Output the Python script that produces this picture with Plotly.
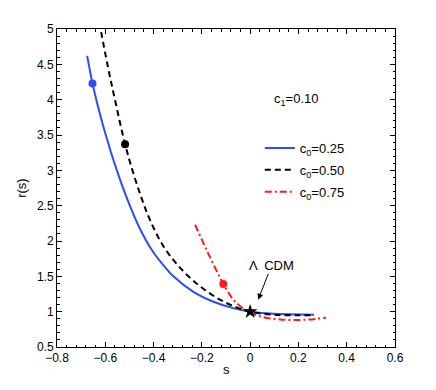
import plotly.graph_objects as go

# ---- data ----
s_c025 = [-0.675, -0.653, -0.630, -0.608, -0.584, -0.560, -0.511, -0.456, -0.401, -0.350,
          -0.318, -0.235, -0.152, -0.070, 0.000, 0.080, 0.160, 0.265]
r_c025 = [4.62, 4.23, 3.90, 3.62, 3.34, 3.08, 2.61, 2.17, 1.84, 1.62,
          1.50, 1.28, 1.14, 1.05, 1.00, 0.975, 0.962, 0.958]

s_c050 = [-0.625, -0.590, -0.560, -0.518, -0.484, -0.449, -0.415, -0.360, -0.290, -0.208,
          -0.125, -0.056, 0.000, 0.100, 0.200, 0.265]
r_c050 = [5.10, 4.48, 4.00, 3.37, 2.96, 2.60, 2.30, 1.93, 1.62, 1.36,
          1.17, 1.06, 1.00, 0.955, 0.948, 0.950]

s_c075 = [-0.228, -0.180, -0.145, -0.111, -0.070, -0.042, -0.020, 0.000, 0.041, 0.080,
          0.124, 0.180, 0.240, 0.314]
r_c075 = [2.23, 1.87, 1.62, 1.39, 1.17, 1.08, 1.02, 0.985, 0.935, 0.905,
          0.890, 0.882, 0.888, 0.915]

dot_s = [-0.653, -0.518, -0.111]
dot_r = [4.23, 3.37, 1.39]
dot_colors = ["#2a4dff", "#000000", "#ff1a1a"]

lcdm_s = [0.0]
lcdm_r = [1.0]

legend_labels = ["c<sub>0</sub>=0.25", "c<sub>0</sub>=0.50", "c<sub>0</sub>=0.75"]
x_ticks = [-0.8, -0.6, -0.4, -0.2, 0, 0.2, 0.4, 0.6]
y_ticks = [0.5, 1, 1.5, 2, 2.5, 3, 3.5, 4, 4.5, 5]

FONT = "Liberation Sans, Arial, Helvetica, sans-serif"

fig = go.Figure()
fig.add_trace(go.Scatter(x=s_c025, y=r_c025, mode="lines", name=legend_labels[0],
                         legendgroup="a", line=dict(color="#2a4dff", width=2, shape="spline")))
fig.add_trace(go.Scatter(x=s_c050, y=r_c050, mode="lines", name=legend_labels[1],
                         legendgroup="b",
                         line=dict(color="#000000", width=2, dash="6px,4px", shape="spline")))
fig.add_trace(go.Scatter(x=s_c075, y=r_c075, mode="lines", name=legend_labels[2],
                         legendgroup="c",
                         line=dict(color="#ff1a1a", width=2, dash="7px,3px,2px,3px", shape="spline")))
fig.add_trace(go.Scatter(x=dot_s, y=dot_r, mode="markers", showlegend=False,
                         marker=dict(color=dot_colors, size=8)))
fig.add_trace(go.Scatter(x=lcdm_s, y=lcdm_r, mode="markers", showlegend=False,
                         marker=dict(color="black", size=11, symbol="star")))

fig.add_annotation(x=0.19, y=4.0, xref="x", yref="y", text="c<sub>1</sub>=0.10",
                   showarrow=False, font=dict(size=13, color="black", family=FONT))
fig.add_annotation(x=0.033, y=1.17, xref="x", yref="y", ax=0.09, ay=1.66,
                   axref="x", ayref="y", text="Λ  CDM", showarrow=True,
                   arrowhead=2, arrowsize=1.2, arrowwidth=1, arrowcolor="black",
                   font=dict(size=13, color="black", family=FONT))
# axis titles
fig.add_annotation(x=0.5, y=-0.07, xref="paper", yref="paper", text="s", showarrow=False,
                   xanchor="center", yanchor="middle",
                   font=dict(size=13, color="black", family=FONT))
fig.add_annotation(x=-0.107, y=0.5, xref="paper", yref="paper", text="r(s)", showarrow=False,
                   textangle=-90, xanchor="center", yanchor="middle",
                   font=dict(size=13, color="black", family=FONT))

axis_common = dict(showline=True, linecolor="black", linewidth=1, mirror="allticks",
                   ticks="inside", ticklen=5, tickcolor="black", showgrid=False,
                   zeroline=False, automargin=False,
                   tickfont=dict(size=12, color="black", family=FONT))

fig.update_xaxes(range=[-0.8, 0.6], tickvals=x_ticks,
                 ticktext=[("−" if v < 0 else "") + (f"{abs(v):g}") for v in x_ticks],
                 minor=dict(ticks="inside", dtick=0.04, tick0=-0.8, ticklen=2.5, tickcolor="black"),
                 **axis_common)
fig.update_yaxes(range=[0.5, 5], tickvals=y_ticks, ticktext=[f"{v:g}" for v in y_ticks],
                 minor=dict(ticks="inside", dtick=0.1, tick0=0.5, ticklen=2.5, tickcolor="black"),
                 **axis_common)

# the page body adds an 8px offset, so margins are shifted to keep the plot box in place
fig.update_layout(
    width=436, height=390,
    margin=dict(l=49, r=49, t=21, b=51),
    paper_bgcolor="white", plot_bgcolor="white",
    font=dict(family=FONT, color="black"),
    legend=dict(x=0.60, y=0.673, xanchor="left", yanchor="top", bgcolor="rgba(0,0,0,0)",
                font=dict(size=13, color="black", family=FONT), tracegroupgap=2,
                itemwidth=30),
)

fig.write_html("out.html")
